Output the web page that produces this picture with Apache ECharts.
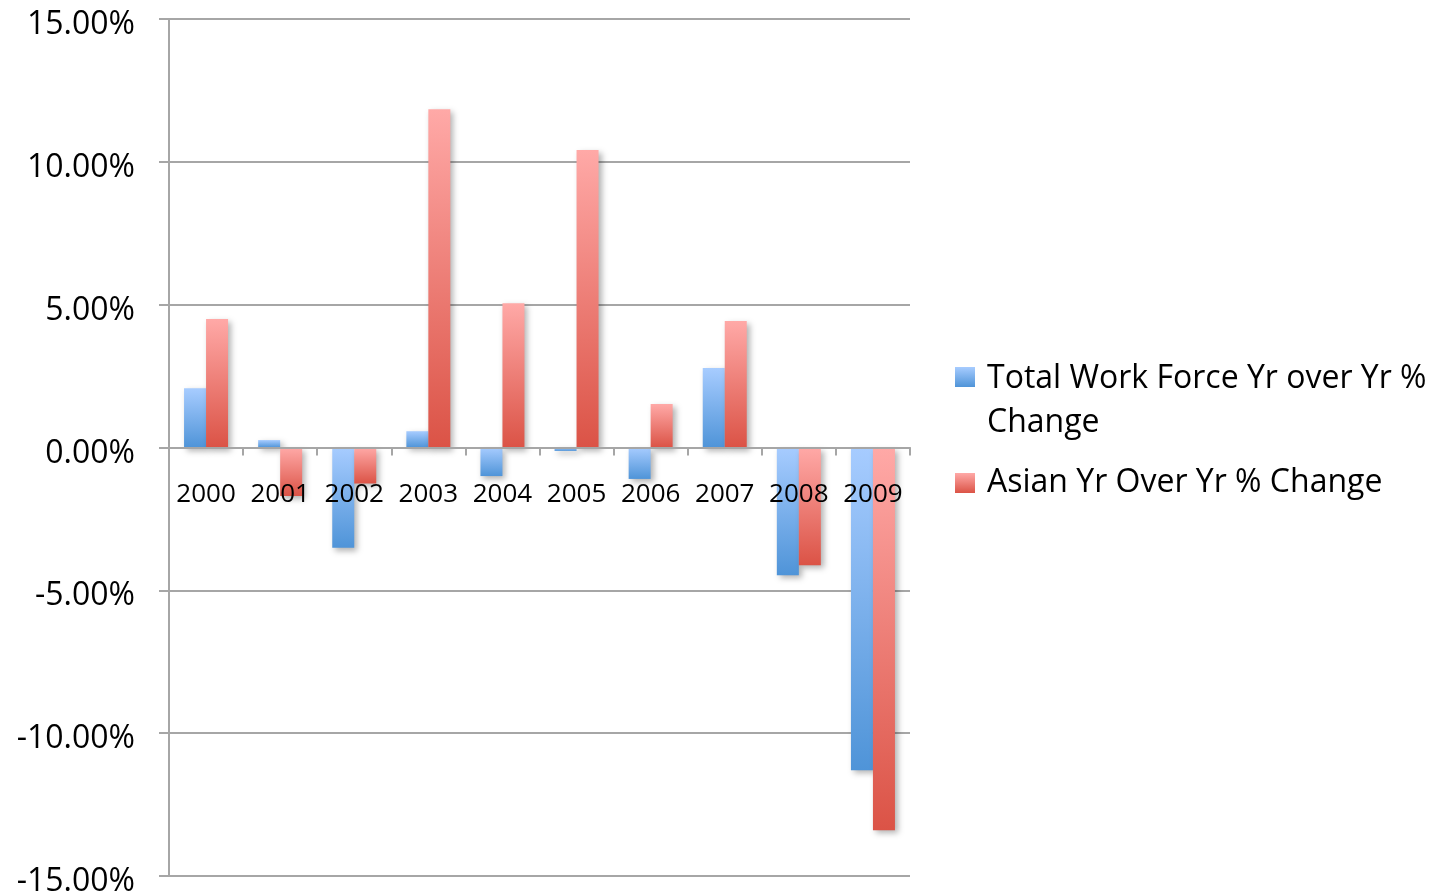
<!DOCTYPE html>
<html><head><meta charset="utf-8">
<script src="https://cdn.jsdelivr.net/npm/echarts@6/dist/echarts.min.js"></script>
<style>html,body{margin:0;padding:0;background:#fff}#c{width:1437px;height:893px}</style>
</head><body><div id="c"></div>
<script>
const categories = ['2000','2001','2002','2003','2004','2005','2006','2007','2008','2009'];
const seriesNames = ['Total Work Force Yr over Yr % Change', 'Asian Yr Over Yr % Change'];
const totalWorkForce = [2.07, 0.26, -3.51, 0.57, -1.0, -0.12, -1.1, 2.78, -4.47, -11.3];
const asian = [4.5, -1.7, -1.26, 11.84, 5.05, 10.41, 1.52, 4.43, -4.12, -13.4];
const yTicks = { min: -15, max: 15, interval: 5 };

const font = '"Open Sans", "Noto Sans", sans-serif';
function grad(light, dark, a, b) {
  return { type: 'linear', x: 0, y: 0, x2: 0, y2: 1,
    colorStops: [{ offset: a || 0, color: light }, { offset: b || 1, color: dark }] };
}
const blue = grad('#a7ccff', '#4f94d8');
const red = grad('#ffa9a7', '#db5346');
const shadow = { shadowBlur: 6, shadowOffsetX: 3, shadowOffsetY: 3, shadowColor: 'rgba(0,0,0,0.3)' };

const chart = echarts.init(document.getElementById('c'));
chart.setOption({
  animation: false,
  backgroundColor: '#fff',
  grid: { left: 169, right: 527, top: 19, bottom: 17, outerBoundsMode: 'none', containLabel: false },
  legend: [
    { data: [seriesNames[0]], orient: 'vertical', left: 950, top: 352,
      itemWidth: 20, itemHeight: 88,
      icon: 'path://M0,0L0.01,0Z M0,10L20,10L20,30L0,30Z M0,88L0.01,88Z',
      itemStyle: { color: grad('#a7ccff', '#4f94d8', 10 / 88, 30 / 88) },
      formatter: () => 'Total Work Force Yr over Yr %\nChange',
      textStyle: { fontFamily: font, fontSize: 32, color: '#000', lineHeight: 44, padding: [0, 0, 0, 7] } },
    { data: [seriesNames[1]], orient: 'vertical', left: 950, top: 456,
      itemWidth: 20, itemHeight: 20, icon: 'rect',
      textStyle: { fontFamily: font, fontSize: 32, color: '#000', lineHeight: 44, padding: [0, 0, 0, 7] } }
  ],
  xAxis: {
    type: 'category', data: categories, boundaryGap: true, z: 10,
    axisLine: { onZero: true, lineStyle: { color: '#a6a6a6', width: 2 } },
    axisTick: { show: true, length: 8, inside: false, lineStyle: { color: '#a6a6a6', width: 2 } },
    axisLabel: { fontFamily: font, fontSize: 26, color: '#000', margin: -394, interval: 0 },
    splitLine: { show: false }
  },
  yAxis: {
    type: 'value', min: yTicks.min, max: yTicks.max, interval: yTicks.interval,
    axisLine: { show: true, lineStyle: { color: '#a6a6a6', width: 2 } },
    axisTick: { show: true, length: 10, lineStyle: { color: '#a6a6a6', width: 2 } },
    axisLabel: { fontFamily: font, fontSize: 32, color: '#000', margin: 34,
      formatter: v => '{a|' + v.toFixed(2) + '%}',
      rich: { a: { fontFamily: font, fontSize: 32, color: '#000', padding: [12, 0, 0, 0] } } },
    splitLine: { show: true, lineStyle: { color: '#a6a6a6', width: 2 } }
  },
  series: [
    { name: seriesNames[0], type: 'bar', data: totalWorkForce, barWidth: 22, barGap: '0%',
      itemStyle: Object.assign({ color: blue }, shadow) },
    { name: seriesNames[1], type: 'bar', data: asian, barWidth: 22, barGap: '0%',
      itemStyle: Object.assign({ color: red }, shadow) }
  ]
});
</script></body></html>
